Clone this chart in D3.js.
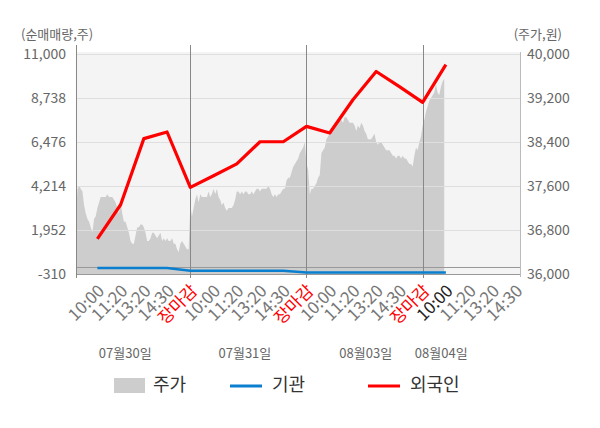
<!DOCTYPE html>
<html>
<head>
<meta charset="utf-8">
<script src="https://cdn.jsdelivr.net/npm/d3@7"></script>
<style>
  body { margin: 0; background: #fff; }
  text { font-family: "Noto Sans CJK KR", "Noto Sans", sans-serif; }
</style>
</head>
<body>
<div id="chart"></div>
<script>
// 날짜 / 시간 라벨
var dates = ["07월30일", "07월31일", "08월03일", "08월04일"];
var timeLabels = ["10:00", "11:20", "13:20", "14:30", "장마감"];

// 왼쪽 축 (순매매량) / 오른쪽 축 (주가)
var leftTicks = [-310, 1952, 4214, 6476, 8738, 11000];
var rightTicks = [36000, 36800, 37600, 38400, 39200, 40000];

// 외국인, 기관 순매매량 (틱 위치마다 한 점)
var foreign = [1500, 3250, 6650, 6990, 4140, 4740, 5350, 6490, 6490, 7280, 6940, 8650, 10100, 9320, 8510, 10450];
var institution = [0, 0, 0, 0, -140, -140, -140, -140, -140, -230, -230, -230, -230, -230, -230, -230];

// 주가 (일자별 분봉)
var price1 = [36950, 36950, 37550, 37600, 37550, 37500, 37250, 37100, 37000, 36950, 36850, 36750, 37000, 37050,
  37200, 37300, 37400, 37400, 37400, 37400, 37450, 37400, 37400, 37400, 37350, 37300, 37200, 37100, 37300, 37100,
  36950, 36950, 36850, 36750, 36600, 36550, 36550, 36700, 36850, 36850, 36900, 36900, 36850, 36750, 36600, 36600,
  36650, 36750, 36750, 36700, 36650, 36700, 36750, 36600, 36650, 36600, 36650, 36600, 36600, 36650, 36550, 36550,
  36450, 36400, 36550, 36600, 36550, 36500, 36450, 36450];
var price2 = [37250, 37050, 37200, 37350, 37450, 37300, 37450, 37400, 37400, 37400, 37400, 37500, 37400, 37450,
  37550, 37450, 37550, 37400, 37350, 37250, 37300, 37200, 37150, 37200, 37200, 37200, 37250, 37350, 37500, 37500,
  37450, 37500, 37450, 37500, 37500, 37450, 37450, 37500, 37450, 37500, 37550, 37550, 37500, 37550, 37550, 37550,
  37550, 37600, 37550, 37450, 37400, 37450, 37400, 37450, 37450, 37500, 37550, 37550, 37700, 37750, 37750, 37850,
  37950, 38000, 38050, 38100, 38200, 38250, 38300, 38400];
var price3 = [38000, 37900, 37450, 37550, 37550, 37600, 37650, 37750, 37800, 38200, 38250, 38300, 38450, 38500,
  38550, 38600, 38650, 38700, 38750, 38750, 38800, 38800, 38750, 38850, 38850, 38800, 38750, 38750, 38750, 38700,
  38600, 38700, 38650, 38750, 38700, 38600, 38550, 38450, 38450, 38450, 38500, 38550, 38400, 38350, 38400, 38400,
  38350, 38300, 38250, 38250, 38250, 38200, 38150, 38150, 38100, 38150, 38150, 38100, 38150, 38100, 38100, 38050,
  38000, 38000, 37950, 38150, 38300, 38250, 38400, 38500];
var price4 = [38700, 38800, 38950, 39050, 39150, 39200, 39250, 39300, 39450, 39300, 39250, 39400, 39500, 39550];

var prices = [price1, price2, price3, price4];

var svg_width = 600;
var svg_height = 428;
var plot = { left: 76, right: 520, top: 52, bottom: 274 };

var svg = d3.select("#chart").append("svg")
  .attr("width", svg_width)
  .attr("height", svg_height);

// 하루 = 틱 5칸
var x = d3.scaleLinear().domain([0.08, 19.19]).range([plot.left, plot.right]);
var yLeft = d3.scaleLinear().domain([-310, 11000]).range([274, 54]);
var yRight = d3.scaleLinear().domain([36000, 40000]).range([274, 54]);

// 배경
svg.append("rect")
  .attr("x", plot.left).attr("y", plot.top)
  .attr("width", plot.right - plot.left).attr("height", plot.bottom - plot.top)
  .attr("fill", "#f4f4f4");

svg.append("clipPath").attr("id", "clip")
  .append("rect")
  .attr("x", plot.left).attr("y", plot.top)
  .attr("width", plot.right - plot.left).attr("height", plot.bottom - plot.top);

// 주가 영역
var pricePoints = [];
prices.forEach(function(day, d) {
  day.forEach(function(p, k) {
    pricePoints.push({ slot: d * 5 + k * 5 / 70, price: p });
  });
});

var area = d3.area()
  .x(function(d) { return x(d.slot); })
  .y0(yRight(36000))
  .y1(function(d) { return yRight(d.price); });

svg.append("path")
  .datum(pricePoints)
  .attr("clip-path", "url(#clip)")
  .attr("fill", "#cdcdcd")
  .attr("d", area);

// 그리드
svg.append("g").selectAll("line")
  .data(leftTicks.slice(1))
  .enter().append("line")
  .attr("x1", plot.left).attr("x2", plot.right)
  .attr("y1", function(d) { return Math.round(yLeft(d)) + 0.5; })
  .attr("y2", function(d) { return Math.round(yLeft(d)) + 0.5; })
  .attr("stroke", "#dedede");

// 0 라인
svg.append("line")
  .attr("x1", plot.left).attr("x2", plot.right)
  .attr("y1", Math.round(yLeft(0)) - 0.5).attr("y2", Math.round(yLeft(0)) - 0.5)
  .attr("stroke", "#999");

// 하단 축
svg.append("line")
  .attr("x1", plot.left).attr("x2", plot.right)
  .attr("y1", plot.bottom + 0.5).attr("y2", plot.bottom + 0.5)
  .attr("stroke", "#999");

// 오른쪽 축
svg.append("line")
  .attr("x1", plot.right + 0.5).attr("x2", plot.right + 0.5)
  .attr("y1", plot.top).attr("y2", plot.bottom + 3)
  .attr("stroke", "#bbb");

// 날짜 구분선
svg.append("g").selectAll("line")
  .data([0, 1, 2, 3])
  .enter().append("line")
  .attr("x1", function(d) { return d == 0 ? plot.left + 0.5 : Math.round(x(d * 5)) + 0.5; })
  .attr("x2", function(d) { return d == 0 ? plot.left + 0.5 : Math.round(x(d * 5)) + 0.5; })
  .attr("y1", 45).attr("y2", plot.bottom + 4)
  .attr("stroke", "#888");

// 기관 / 외국인 라인
var line = d3.line()
  .x(function(d, i) { return x(i + 1); })
  .y(function(d) { return yLeft(d); });

svg.append("path")
  .datum(institution)
  .attr("fill", "none")
  .attr("stroke", "#0a7fd0")
  .attr("stroke-width", 2.6)
  .attr("d", line);

svg.append("path")
  .datum(foreign)
  .attr("fill", "none")
  .attr("stroke", "#ff0000")
  .attr("stroke-width", 3.2)
  .attr("stroke-linejoin", "round")
  .attr("d", line);

// 왼쪽 눈금
svg.append("g").selectAll("text")
  .data(leftTicks)
  .enter().append("text")
  .attr("x", 66)
  .attr("y", function(d) { return yLeft(d); })
  .attr("dy", "0.35em")
  .attr("text-anchor", "end")
  .attr("font-size", 14)
  .attr("fill", "#666")
  .text(function(d) { return d3.format(",")(d).replace("−", "-"); });

// 오른쪽 눈금
svg.append("g").selectAll("text")
  .data(rightTicks)
  .enter().append("text")
  .attr("x", 527)
  .attr("y", function(d) { return yRight(d); })
  .attr("dy", "0.35em")
  .attr("font-size", 14)
  .attr("fill", "#666")
  .text(function(d) { return d3.format(",")(d); });

// 축 제목
svg.append("text").attr("x", 21).attr("y", 34).attr("dy", "0.35em")
  .attr("font-size", 13).attr("fill", "#666").text("(순매매량,주)");
svg.append("text").attr("x", 562).attr("y", 34).attr("dy", "0.35em")
  .attr("text-anchor", "end")
  .attr("font-size", 13).attr("fill", "#666").text("(주가,원)");

// 시간 라벨
var xTicks = [];
for (var d = 0; d < 4; d++) {
  for (var i = 0; i < timeLabels.length; i++) {
    var s = d * 5 + i + 1;
    if (x(s) <= plot.right) xTicks.push({ slot: s, label: timeLabels[i], day: d, idx: i });
  }
}

svg.append("g").selectAll("text")
  .data(xTicks)
  .enter().append("text")
  .attr("transform", function(d) { return "translate(" + (x(d.slot) + 8) + ",292) rotate(-45)"; })
  .attr("text-anchor", "end")
  .attr("font-size", 17)
  .attr("fill", function(d) {
    if (d.label == "장마감") return "#ff0000";
    if (d.day == 3 && d.idx == 0) return "#222";
    return "#777";
  })
  .text(function(d) { return d.label; });

// 날짜 라벨
var dateSlot = [2.2, 7.35, 12.55, 15.8];
svg.append("g").selectAll("text")
  .data(dates)
  .enter().append("text")
  .attr("x", function(d, i) { return x(dateSlot[i]); })
  .attr("y", 353)
  .attr("dy", "0.35em")
  .attr("text-anchor", "middle")
  .attr("font-size", 13)
  .attr("fill", "#666")
  .text(function(d) { return d; });

// 범례
var legend = svg.append("g");
legend.append("rect").attr("x", 114).attr("y", 378).attr("width", 31).attr("height", 15).attr("fill", "#cdcdcd");
legend.append("text").attr("x", 153).attr("y", 385).attr("dy", "0.35em")
  .attr("font-size", 18).attr("fill", "#333").text("주가");
legend.append("line").attr("x1", 230).attr("x2", 262).attr("y1", 386).attr("y2", 386)
  .attr("stroke", "#0a7fd0").attr("stroke-width", 3);
legend.append("text").attr("x", 272).attr("y", 385).attr("dy", "0.35em")
  .attr("font-size", 18).attr("fill", "#333").text("기관");
legend.append("line").attr("x1", 368).attr("x2", 400).attr("y1", 386).attr("y2", 386)
  .attr("stroke", "#ff0000").attr("stroke-width", 3);
legend.append("text").attr("x", 410).attr("y", 385).attr("dy", "0.35em")
  .attr("font-size", 18).attr("fill", "#333").text("외국인");
</script>
</body>
</html>
